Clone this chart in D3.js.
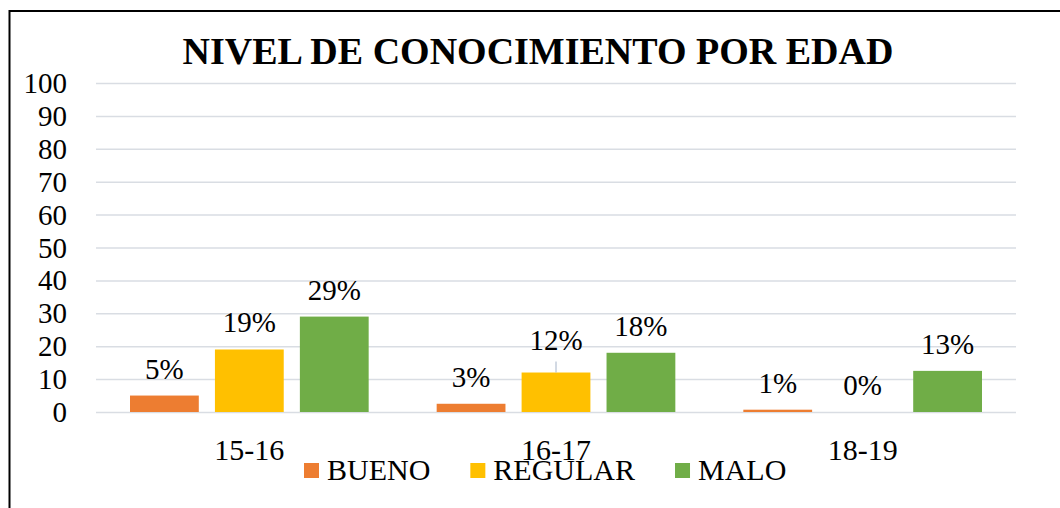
<!DOCTYPE html>
<html>
<head>
<meta charset="utf-8">
<script src="https://cdn.jsdelivr.net/npm/d3@7"></script>
<style>
  body { margin: 0; background: #fff; }
  svg text { font-family: "Liberation Serif", "Times New Roman", serif; fill: #000; }
</style>
</head>
<body>
<div id="chart"></div>
<script>
// data
const groups = ['15-16', '16-17', '18-19'];
const series = ['BUENO', 'REGULAR', 'MALO'];
const bueno = [5, 2.5, 0.7];
const regular = [19, 12, 0];
const malo = [29, 18, 12.5];
const yTicks = [0, 10, 20, 30, 40, 50, 60, 70, 80, 90, 100];
const colors = ['#ED7D31', '#FFC000', '#70AD47'];

const values = [bueno, regular, malo];
const rows = [];
groups.forEach((g, gi) => {
  series.forEach((s, si) => {
    rows.push({ group: g, series: s, si: si, value: values[si][gi] });
  });
});

const W = 1060, H = 508;
const margin = { top: 83, left: 96, right: 44, bottom: 96 };
const width = W - margin.left - margin.right;
const height = H - margin.top - margin.bottom;

const svg = d3.select('#chart').append('svg')
  .attr('width', W)
  .attr('height', H);

// outer frame (only top and left visible)
svg.append('rect')
  .attr('x', 9.5).attr('y', 11)
  .attr('width', W + 20).attr('height', H + 20)
  .attr('fill', 'none')
  .attr('stroke', '#000')
  .attr('stroke-width', 2);

svg.append('text')
  .attr('x', 538)
  .attr('y', 64)
  .attr('text-anchor', 'middle')
  .style('font-size', '38px')
  .style('font-weight', 'bold')
  .text('NIVEL DE CONOCIMIENTO POR EDAD');

const g = svg.append('g')
  .attr('transform', `translate(${margin.left},${margin.top})`);

const yScale = d3.scaleLinear().domain([0, 100]).range([height, 0]);
const x0 = d3.scaleBand().domain(groups).range([0, width]).paddingInner(0).paddingOuter(0);
const x1 = d3.scaleBand().domain(series).range([34, x0.bandwidth() - 34]).paddingInner(0.19);

// gridlines + y labels
const yAxis = g.append('g')
  .call(d3.axisLeft(yScale).tickValues(yTicks).tickSize(-width).tickPadding(29));
yAxis.select('.domain').remove();
yAxis.selectAll('.tick line').attr('stroke', '#d9dde3').attr('stroke-width', 1.5);
yAxis.selectAll('.tick text').style('font-size', '29px').attr('dy', '0.33em');

// bars
g.selectAll('rect.bar')
  .data(rows)
  .enter()
  .append('rect')
  .attr('class', 'bar')
  .attr('x', d => x0(d.group) + x1(d.series))
  .attr('y', d => yScale(d.value))
  .attr('width', x1.bandwidth())
  .attr('height', d => height - yScale(d.value))
  .attr('fill', d => colors[d.si]);

// data labels; the REGULAR 16-17 label sits higher with a leader line
const lifted = { group: '16-17', series: 'REGULAR', lift: 6 };
g.selectAll('text.lbl')
  .data(rows)
  .enter()
  .append('text')
  .attr('class', 'lbl')
  .attr('x', d => x0(d.group) + x1(d.series) + x1.bandwidth() / 2)
  .attr('y', d => {
    const isLifted = d.group === lifted.group && d.series === lifted.series;
    return yScale(d.value) - 17 - (isLifted ? lifted.lift : 0);
  })
  .attr('text-anchor', 'middle')
  .style('font-size', '29px')
  .text(d => Math.round(d.value) + '%');

const lr = rows.find(d => d.group === lifted.group && d.series === lifted.series);
g.append('line')
  .attr('x1', x0(lr.group) + x1(lr.series) + x1.bandwidth() / 2)
  .attr('x2', x0(lr.group) + x1(lr.series) + x1.bandwidth() / 2)
  .attr('y1', yScale(lr.value) - 11)
  .attr('y2', yScale(lr.value))
  .attr('stroke', '#a6b4c8')
  .attr('stroke-width', 1);

// category labels
const xAxis = g.append('g')
  .attr('transform', `translate(0,${height})`)
  .call(d3.axisBottom(x0).tickSize(0));
xAxis.select('.domain').remove();
xAxis.selectAll('.tick text')
  .attr('dy', null)
  .attr('y', 48)
  .style('font-size', '30px');

// legend
const legend = svg.append('g').attr('transform', 'translate(0,480)');
let lx = 304;
series.forEach((s, i) => {
  legend.append('rect')
    .attr('x', lx).attr('y', -17)
    .attr('width', 15).attr('height', 15)
    .attr('fill', colors[i]);
  const t = legend.append('text')
    .attr('x', lx + 23).attr('y', 0)
    .style('font-size', '30px')
    .text(s);
  lx += 23 + t.node().getComputedTextLength() + 40;
});
</script>
</body>
</html>
